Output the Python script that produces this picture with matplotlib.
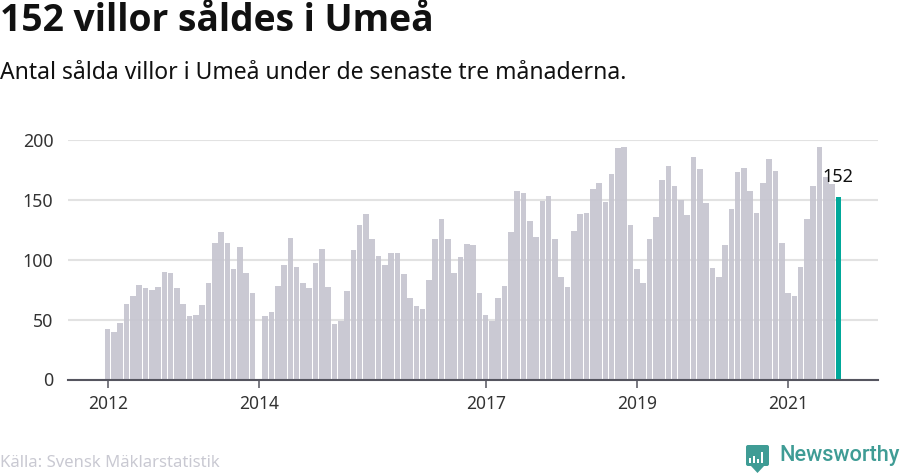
import matplotlib
matplotlib.use('Agg')
import matplotlib.pyplot as plt
from matplotlib.patches import FancyBboxPatch, Polygon, Rectangle

plt.rcParams['font.family'] = ['Noto Sans', 'DejaVu Sans']

# monthly sales from jan 2012, None = month without data
sales = [42, 40, 47, 63, 70, 79, 76, 75, 77, 90, 89, 76,
         63, 53, 54, 62, 81, 114, 123, 114, 92, 111, 89, 72,
         None, 53, 56, 78, 96, 118, 94, 81, 76, 97, 109, 77,
         46, 49, 74, 108, 129, 138, 117, 103, 96, 106, 106, 88,
         68, 61, 59, 83, 117, 134, 117, 89, 102, 113, 112, 72,
         54, 49, 68, 78, 123, 157, 156, 132, 119, 149, 153, 117,
         86, 77, 124, 138, 139, 159, 164, 148, 172, 193, 194, 129,
         92, 81, 117, 136, 167, 178, 162, 150, 137, 186, 176, 147,
         93, 86, 112, 142, 173, 177, 157, 139, 164, 184, 174, 114,
         72, 70, 94, 134, 162, 194, 169, 163, 152]
tick_months = [0, 24, 60, 84, 108]
tick_years = ['2012', '2014', '2017', '2019', '2021']
y_ticks = [0, 50, 100, 150, 200]

W, H = 900, 474
fig = plt.figure(figsize=(9, 4.74), dpi=100)

# axes placed in pixels: plot spans 68-877 horizontally, 140-379.5 vertically
ax = fig.add_axes([68 / W, (H - 379.5) / H, (877.5 - 68) / W, (379.5 - 140) / H])
ax.set_xlim(-6.3, 122.2)
ax.set_ylim(0, 200)

for i, v in enumerate(sales):
    if v is None:
        continue
    last = i == len(sales) - 1
    ax.bar(i, v, width=0.89, color='#00a89a' if last else '#c6c5d0',
           alpha=1 if last else 0.93, zorder=3, linewidth=0)

ax.set_yticks(y_ticks)
ax.set_xticks(tick_months)
ax.set_xticklabels(tick_years)
ax.grid(axis='y', color='#e2e2e2', linewidth=1.5, zorder=1)
ax.set_axisbelow(True)
for s in ['top', 'left', 'right']:
    ax.spines[s].set_visible(False)
ax.spines['bottom'].set_color('#55555f')
ax.spines['bottom'].set_linewidth(1.5)
ax.spines['bottom'].set_zorder(5)
ax.tick_params(axis='x', length=6, width=1.1, color='#55555f', labelsize=12.5,
               labelcolor='#333333', pad=5)
ax.tick_params(axis='y', length=0, labelsize=12.8, labelcolor='#333333', pad=10.5)

ax.text(len(sales) - 1.15, sales[-1] + 9.5, str(sales[-1]), ha='center', va='bottom',
        fontsize=13, color='#111111', zorder=6)

fig.text(0, 1 - 31 / H, '152 villor såldes i Umeå', fontsize=26.8, fontweight='bold',
         family='Open Sans', color='#111111', va='baseline', ha='left')
fig.text(0, 1 - 73 / H, 'Antal sålda villor i Umeå under de senaste tre månaderna.',
         fontsize=16.5, color='#111111', va='center', ha='left')
fig.text(0, 1 - 463 / H, 'Källa: Svensk Mäklarstatistik', fontsize=12,
         color='#c9c9d2', va='center', ha='left')

# newsworthy logo, in pixel coordinates
logo = fig.add_axes([0, 0, 1, 1], zorder=10)
logo.set_xlim(0, W)
logo.set_ylim(H, 0)
logo.axis('off')
teal = '#3f9c95'
logo.add_patch(FancyBboxPatch((746, 445), 23, 21, boxstyle='round,pad=0,rounding_size=2',
                              facecolor=teal, edgecolor='none'))
logo.add_patch(Polygon([[751, 466], [764, 466], [757.5, 473]], facecolor=teal, edgecolor='none'))
for x0, top in [(749, 458), (753, 456), (757, 459), (761, 452)]:
    logo.add_patch(Rectangle((x0, top), 2.4, 463 - top, facecolor='white', edgecolor='none'))
fig.text(779 / W, 1 - 456 / H, 'Newsworthy', fontsize=15.7, family='Roboto', color=teal,
         va='center', ha='left', fontweight='medium')

fig.savefig('out.png', dpi=100)
